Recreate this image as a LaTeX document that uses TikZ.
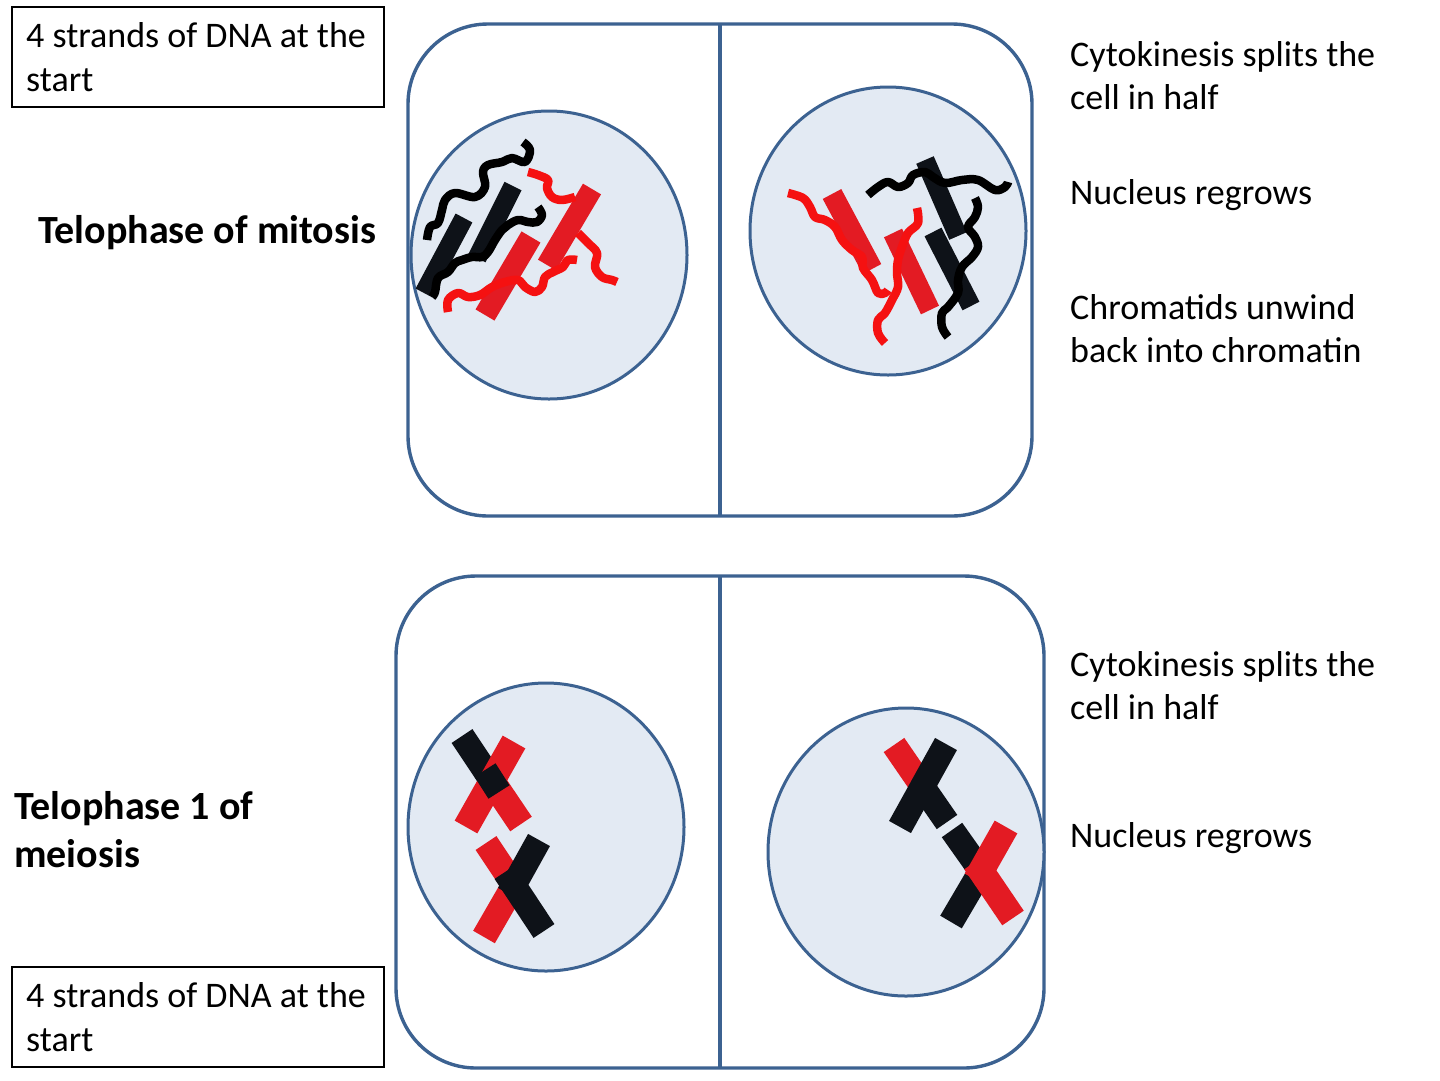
\documentclass[tikz,border=0pt]{standalone}
\usepackage{fontspec}
\setmainfont{Carlito}
\definecolor{cellblue}{HTML}{3C6291}
\definecolor{nucfill}{HTML}{E3EAF3}
\definecolor{barred}{HTML}{E31B23}
\definecolor{sqred}{HTML}{F51111}
\definecolor{barblack}{HTML}{0E1218}
\begin{document}
\begin{tikzpicture}[x=1pt,y=-1pt,
  cellline/.style={draw=cellblue, line width=3.4pt},
  nuc/.style={draw=cellblue, line width=3pt, fill=nucfill},
  txt/.style={anchor=base west, inner sep=0pt, font=\fontsize{36}{44}\selectfont},
  ttl/.style={anchor=base west, inner sep=0pt, font=\fontsize{40}{48}\selectfont\bfseries},
  boxline/.style={draw=black, line width=1.3pt},
  rbar/.style={draw=barred, line width=#1, line cap=butt},
  kbar/.style={draw=barblack, line width=#1, line cap=butt},
  rsq/.style={draw=sqred, line width=8.5pt, line join=round},
  ksq/.style={draw=black, line width=8.5pt, line join=round},
]
\useasboundingbox (0,0) rectangle (1440,1080);
\fill[white] (0,0) rectangle (1440,1080);

% ---------- text boxes ----------
\draw[boxline] (12,7) rectangle (384,107);
\node[txt] (box1a) at (26,47) {4 strands of DNA at the};
\node[txt] (box1b) at (26,91) {start};
\draw[boxline] (12,967) rectangle (384,1067);
\node[txt] (box2a) at (26,1007) {4 strands of DNA at the};
\node[txt] (box2b) at (26,1051) {start};

% ---------- titles ----------
\node[ttl] (ttl1) at (38,243) {Telophase of mitosis};
\node[ttl] (ttl2a) at (14,819) {Telophase 1 of};
\node[ttl] (ttl2b) at (14,867) {meiosis};

% ---------- right texts ----------
\node[txt] (r1a) at (1070,66) {Cytokinesis splits the};
\node[txt] (r1b) at (1070,109) {cell in half};
\node[txt] (r2) at (1070,204) {Nucleus regrows};
\node[txt] (r3a) at (1070,319) {Chromatids unwind};
\node[txt] (r3b) at (1070,362) {back into chromatin};
\node[txt] (r4a) at (1070,676) {Cytokinesis splits the};
\node[txt] (r4b) at (1070,719) {cell in half};
\node[txt] (r5) at (1070,847) {Nucleus regrows};

% ---------- cells ----------
\draw[cellline, rounded corners=80pt] (408,24) rectangle (1032,516);
\draw[cellline] (720,24) -- (720,516);
\draw[cellline, rounded corners=80pt] (396,576) rectangle (1044,1068);
\draw[cellline] (720,576) -- (720,1068);

% ---------- nuclei ----------
\draw[nuc] (549,255) ellipse [x radius=138, y radius=144];
\draw[nuc] (888,231) ellipse [x radius=138, y radius=144];
\draw[nuc] (546,827) ellipse [x radius=138, y radius=144];
\draw[nuc] (906,852) ellipse [x radius=138, y radius=144];

% ---------- top-left nucleus: chromatin ----------
\draw[kbar=19pt] (424,293) -- (464,218);
\draw[kbar=19pt] (477,258) -- (513,186);
\draw[rbar=22pt] (531,237) -- (485,315);
\draw[rbar=21pt] (592,189) -- (547,265);
\draw[ksq] plot[smooth, tension=0.6] coordinates {(523,142) (530,150) (525,162) (512,158) (502,162) (488,165) (483,172) (485,187) (475,197) (455,193) (445,200) (442,210) (438,223) (430,227) (427,240)};
\draw[ksq] plot[smooth, tension=0.6] coordinates {(538,207) (542,215) (537,222) (528,222) (518,220) (508,225) (502,230) (495,240) (488,252) (482,257) (472,257) (462,260) (455,263) (448,272) (438,278) (435,292) (432,297)};
\draw[rsq] plot[smooth, tension=0.6] coordinates {(528,172) (538,175) (548,180) (547,188) (552,197) (562,200) (575,197)};
\draw[rsq] plot[smooth, tension=0.6] coordinates {(578,233) (588,243) (597,253) (595,267) (602,277) (612,280) (617,282)};
\draw[rsq] plot[smooth, tension=0.6] coordinates {(448,312) (448,300) (458,293) (468,297) (480,295) (492,287) (505,282) (518,280) (525,287) (535,292) (542,287) (545,277) (553,272) (563,267) (568,260) (577,260)};

% ---------- top-right nucleus: chromatin ----------
\draw[rbar=21pt] (832,194) -- (872,269);
\draw[rbar=20pt] (893,233) -- (930,310);
\draw[kbar=19pt] (925,160) -- (958,236);
\draw[kbar=19pt] (933,232) -- (971,306);
\draw[rsq] plot[smooth, tension=0.6] coordinates {(788,193) (803,198) (810,207) (815,217) (825,220) (835,227) (842,240) (852,250) (862,257) (863,268) (872,280) (878,293) (885,293) (888,290)};
\draw[rsq] plot[smooth, tension=0.6] coordinates {(917,208) (918,223) (908,233) (902,247) (898,260) (897,273) (898,287) (892,300) (885,313) (878,320) (878,333) (885,343)};
\draw[ksq] plot[smooth, tension=0.6] coordinates {(868,195) (878,187) (888,182) (898,187) (908,183) (913,175) (925,172) (933,177) (945,183) (962,180) (978,180) (995,190) (1005,187) (1008,182)};
\draw[ksq] plot[smooth, tension=0.6] coordinates {(975,198) (978,207) (975,217) (968,227) (975,237) (978,247) (972,257) (962,267) (958,280) (958,293) (948,307) (942,313) (942,327) (948,337)};

% ---------- bottom-left nucleus: two X chromosomes ----------
\draw[kbar=25pt] (462,736) -- (492,781);
\draw[rbar=26pt] (514,742) -- (466,827);
\draw[rbar=26pt] (492,781) -- (521,824);
\draw[kbar=25pt] (485,770) -- (499,792);
\draw[rbar=25pt] (486,843) -- (514,885);
\draw[rbar=25pt] (514,885) -- (484,937);
\draw[kbar=25pt] (539,840) -- (509,894);
\draw[kbar=25pt] (505,872) -- (544,931);

% ---------- bottom-right nucleus: two X chromosomes ----------
\draw[rbar=25pt] (894,745) -- (927,793);
\draw[kbar=25pt] (946,744) -- (900,827);
\draw[kbar=25pt] (920,783) -- (947,822);
\draw[kbar=25pt] (952,830) -- (981,871);
\draw[kbar=25pt] (981,871) -- (951,922);
\draw[rbar=26pt] (1006,827) -- (976,880);
\draw[rbar=26pt] (975,862) -- (1013,918);
\end{tikzpicture}
\end{document}
